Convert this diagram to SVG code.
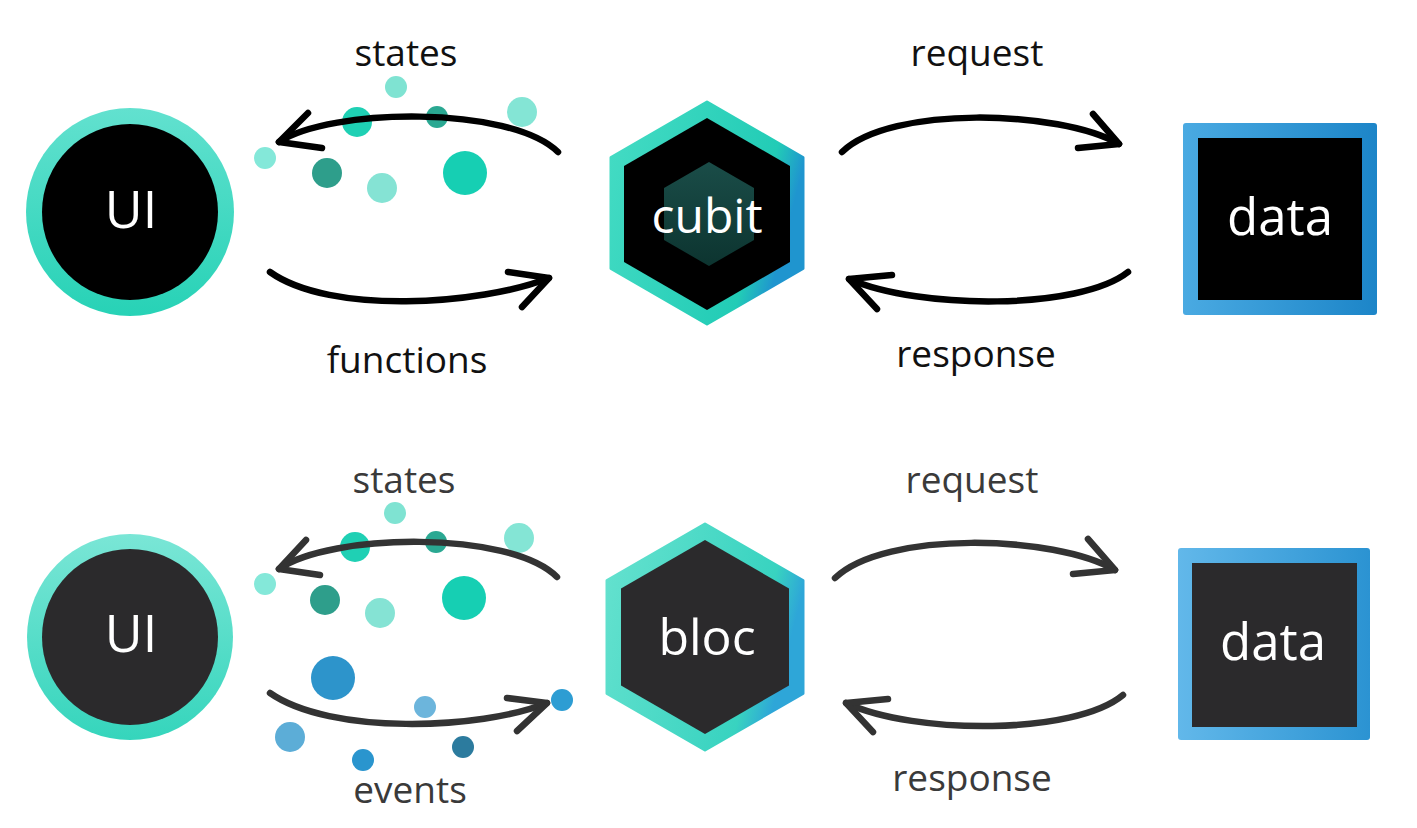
<svg xmlns="http://www.w3.org/2000/svg" width="1417" height="828" viewBox="0 0 1417 828">
<defs>
<linearGradient id="ringTop" x1="0" y1="0" x2="0" y2="1"><stop offset="0" stop-color="#62e1cf"/><stop offset="1" stop-color="#27d2b6"/></linearGradient>
<linearGradient id="ringBot" x1="0" y1="0" x2="0" y2="1"><stop offset="0" stop-color="#7ae6d6"/><stop offset="1" stop-color="#35d5bc"/></linearGradient>
<linearGradient id="hexTop" x1="0" y1="0" x2="1" y2="0.3"><stop offset="0" stop-color="#45dcc4"/><stop offset="0.85" stop-color="#22ccb6"/><stop offset="1" stop-color="#1f95cf"/></linearGradient>
<linearGradient id="hexBot" x1="0" y1="0" x2="1" y2="0.3"><stop offset="0" stop-color="#66e2cf"/><stop offset="0.85" stop-color="#38d3c0"/><stop offset="1" stop-color="#2ea6d8"/></linearGradient>
<linearGradient id="innerHex" x1="0" y1="0" x2="0" y2="1"><stop offset="0" stop-color="#1d5550"/><stop offset="1" stop-color="#0e3a35"/></linearGradient>
<linearGradient id="boxTop" x1="0" y1="0" x2="1" y2="0"><stop offset="0" stop-color="#4aaae2"/><stop offset="1" stop-color="#1c85c8"/></linearGradient>
<linearGradient id="boxBot" x1="0" y1="0" x2="1" y2="0"><stop offset="0" stop-color="#62b8ea"/><stop offset="1" stop-color="#2b93d2"/></linearGradient>
</defs>
<style>
.lbl{font-family:"Open Sans","Noto Sans",sans-serif;font-size:37px;text-anchor:middle}
.lt{fill:#111}
.lb{fill:#3a3a3a}
.nt{font-family:"Open Sans","Noto Sans",sans-serif;fill:#fff;text-anchor:middle}
.arr{fill:none;stroke-width:6.5;stroke-linecap:round;stroke-linejoin:round}
.at{stroke:#000}
.ab{stroke:#333}
</style>
<rect width="1417" height="828" fill="#fff"/>

<g id="ui-top">
<circle cx="130" cy="212" r="104" fill="url(#ringTop)"/>
<circle cx="130" cy="212" r="88" fill="#000"/>
<text class="nt" x="131" y="228" font-size="52">UI</text>
</g>
<g id="cubit">
<polygon points="707,102 803,157.5 803,268.5 707,324 611,268.5 611,157.5" fill="url(#hexTop)" stroke="url(#hexTop)" stroke-width="3" stroke-linejoin="round"/>
<polygon points="707,118 790,166 790,262 707,310 624,262 624,166" fill="#000"/>
<polygon points="709,162 754,188 754,240 709,266 664,240 664,188" fill="url(#innerHex)" opacity="0.9"/>
<text class="nt" x="707" y="233" font-size="48">cubit</text>
</g>
<g id="data-top">
<rect x="1183" y="123" width="194" height="192" rx="3" fill="url(#boxTop)"/>
<rect x="1198" y="138" width="164" height="162" fill="#000"/>
<text class="nt" x="1280" y="235" font-size="51">data</text>
</g>

<g id="ui-bottom">
<circle cx="130" cy="637" r="103" fill="url(#ringBot)"/>
<circle cx="130" cy="637" r="88" fill="#2b2a2c"/>
<text class="nt" x="131" y="652" font-size="52">UI</text>
</g>
<g id="bloc">
<polygon points="705,524 803,580.5 803,693.5 705,750 607,693.5 607,580.5" fill="url(#hexBot)" stroke="url(#hexBot)" stroke-width="3" stroke-linejoin="round"/>
<polygon points="705,540 789,588.5 789,685.5 705,734 621,685.5 621,588.5" fill="#2b2a2c"/>
<text class="nt" x="707" y="655" font-size="50">bloc</text>
</g>
<g id="data-bottom">
<rect x="1178" y="548" width="192" height="192" rx="3" fill="url(#boxBot)"/>
<rect x="1192" y="563" width="165" height="164" fill="#2b2a2c"/>
<text class="nt" x="1273" y="660" font-size="51">data</text>
</g>

<g id="dots">
<circle cx="396" cy="87" r="11" fill="#7fe3d2"/>
<circle cx="357" cy="122" r="15" fill="#1fd0b4"/>
<circle cx="437" cy="117" r="11" fill="#2aa892"/>
<circle cx="522" cy="112" r="15" fill="#84e5d5"/>
<circle cx="265" cy="158" r="11" fill="#84e8d9"/>
<circle cx="327" cy="173" r="15" fill="#2e9e8b"/>
<circle cx="382" cy="188" r="15" fill="#85e3d4"/>
<circle cx="465" cy="173" r="22" fill="#16cfb3"/>

<circle cx="395" cy="513" r="11" fill="#7fe3d2"/>
<circle cx="355" cy="547" r="15" fill="#1fd0b4"/>
<circle cx="436" cy="542" r="11" fill="#2aa892"/>
<circle cx="519" cy="538" r="15" fill="#84e5d5"/>
<circle cx="265" cy="584" r="11" fill="#84e8d9"/>
<circle cx="325" cy="600" r="15" fill="#2e9e8b"/>
<circle cx="380" cy="613" r="15" fill="#85e3d4"/>
<circle cx="464" cy="598" r="22" fill="#16cfb3"/>

<circle cx="333" cy="678" r="22" fill="#2d94cb"/>
<circle cx="290" cy="737" r="15" fill="#5cadd7"/>
<circle cx="425" cy="707" r="11" fill="#6cb5dc"/>
<circle cx="463" cy="747" r="11" fill="#2c7b9e"/>
<circle cx="363" cy="760" r="11" fill="#2a95ce"/>
</g>

<g id="connectors">
<path class="arr at" d="M558,152 C510,105 330,108 279,142"/>
<path class="arr at" d="M308,113 L279,142 L322,148"/>
<path class="arr at" d="M270,272 C330,315 480,305 549,278"/>
<path class="arr at" d="M508,272 L549,278 L522,307"/>
<path class="arr at" d="M842,152 C890,105 1060,110 1119,144"/>
<path class="arr at" d="M1093,114 L1119,144 L1078,148"/>
<path class="arr at" d="M1128,272 C1080,310 920,310 849,279"/>
<path class="arr at" d="M892,275 L849,279 L877,309"/>

<path class="arr ab" d="M557,577 C510,530 330,533 279,569"/>
<path class="arr ab" d="M306,540 L279,569 L320,575"/>
<path class="arr ab" d="M270,693 C330,735 480,730 547,703"/>
<path class="arr ab" d="M507,698 L547,703 L517,731"/>
<path class="arr ab" d="M835,578 C885,530 1055,535 1115,570"/>
<path class="arr ab" d="M1088,539 L1115,570 L1073,574"/>
<path class="arr ab" d="M1123,695 C1075,735 915,735 846,703"/>
<path class="arr ab" d="M888,699 L846,703 L873,732"/>
</g>
<circle id="event-dot" cx="562" cy="700" r="11" fill="#2d9dd3"/>

<g id="labels">
<text class="lbl lt" x="406" y="66">states</text>
<text class="lbl lt" x="977" y="66">request</text>
<text class="lbl lt" x="407" y="373">functions</text>
<text class="lbl lt" x="976" y="367">response</text>
<text class="lbl lb" x="404" y="493">states</text>
<text class="lbl lb" x="972" y="493">request</text>
<text class="lbl lb" x="410" y="803">events</text>
<text class="lbl lb" x="972" y="791">response</text>
</g>
</svg>
